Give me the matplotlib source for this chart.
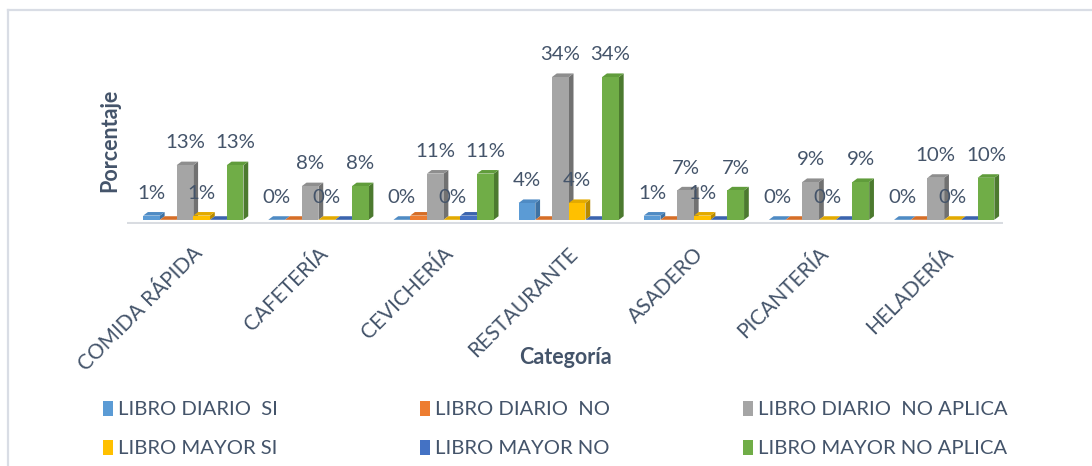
import matplotlib
matplotlib.use('Agg')
import matplotlib.pyplot as plt
from matplotlib.patches import Polygon, Rectangle, Patch
from matplotlib.lines import Line2D
import matplotlib.transforms as mtransforms

# ---------------- data ----------------
categories = ['COMIDA RÁPIDA', 'CAFETERÍA', 'CEVICHERÍA', 'RESTAURANTE',
              'ASADERO', 'PICANTERÍA', 'HELADERÍA']
series_names = ['LIBRO DIARIO  SI', 'LIBRO DIARIO  NO', 'LIBRO DIARIO  NO APLICA',
                'LIBRO MAYOR SI', 'LIBRO MAYOR NO', 'LIBRO MAYOR NO APLICA']
diario_si = [1, 0, 0, 4, 1, 0, 0]
diario_no = [0, 0, 1, 0, 0, 0, 0]
diario_na = [13, 8, 11, 34, 7, 9, 10]
mayor_si = [1, 0, 0, 4, 1, 0, 0]
mayor_no = [0, 0, 1, 0, 0, 0, 0]
mayor_na = [13, 8, 11, 34, 7, 9, 10]
series_values = [diario_si, diario_no, diario_na, mayor_si, mayor_no, mayor_na]
series_labeled = [True, False, True, True, False, True]

# ---------------- style ----------------
front_cols = ['#5B9BD5', '#ED7D31', '#A5A5A5', '#FFC000', '#4472C4', '#70AD47']
side_cols = ['#3F72A3', '#A9561F', '#717171', '#B88A00', '#2E4F8C', '#4C7A2F']
top_cols = ['#4F8BC4', '#D66E27', '#8E8E8E', '#E3AA00', '#3B64AE', '#609C3B']
text_col = '#44546A'
FONT = 'Lato'

W, H = 1092, 466
fig = plt.figure(figsize=(W / 100, H / 100), dpi=100)

# axes placement in pixels
px_left, px_right = 127, 1003
px_bottom, px_top = 224, 30
ax = fig.add_axes([px_left / W, (H - px_bottom) / H,
                   (px_right - px_left) / W, (px_bottom - px_top) / H])
ymin = -1.0
ppp = 4.2  # pixels per percent
ymax = ymin + (px_bottom - px_top) / ppp
ax.set_xlim(-0.5, len(categories) - 0.5)
ax.set_ylim(ymin, ymax)

bw = 0.1336
dx = 0.038
dy = 0.85
shift = 0.03
nser = len(series_values)

z = 2
for ci in range(len(categories)):
    for si in range(nser):
        v = series_values[si][ci]
        x0 = ci + (si - nser / 2) * bw + shift
        # front face
        if v > 0:
            ax.add_patch(Rectangle((x0, 0), bw, v, facecolor=front_cols[si],
                                   edgecolor='none', zorder=z + 0.2))
        # side face
        ax.add_patch(Polygon([(x0 + bw, 0), (x0 + bw + dx, dy), (x0 + bw + dx, v + dy), (x0 + bw, v)],
                             closed=True, facecolor=side_cols[si], edgecolor='none', zorder=z))
        # top face
        ax.add_patch(Polygon([(x0, v), (x0 + bw, v), (x0 + bw + dx, v + dy), (x0 + dx, v + dy)],
                             closed=True, facecolor=top_cols[si], edgecolor='none', zorder=z + 0.1))
        z += 1
        if series_labeled[si]:
            ax.annotate(f'{v}%', (x0 + bw / 2, v + dy), xytext=(0, 9.5),
                        textcoords='offset points', ha='center', va='baseline',
                        fontsize=14.7, color=text_col, family=FONT, zorder=500)

# floor line
ax.axhline(-0.75, color='#D9DCE1', lw=2.2, zorder=1)

for s in ax.spines.values():
    s.set_visible(False)
ax.set_yticks([])
ax.set_xticks(range(len(categories)))
ax.set_xticklabels(categories, rotation=45, ha='right', va='top',
                   rotation_mode='anchor', fontsize=15, color=text_col, family=FONT)
ax.tick_params(axis='x', length=0, pad=14)
offset = mtransforms.ScaledTranslation(3 / 100, 0, fig.dpi_scale_trans)
for lbl in ax.get_xticklabels():
    lbl.set_transform(lbl.get_transform() + offset)

fig.text(565 / W, 1 - 357 / H, 'Categoría', ha='center', va='center',
         fontsize=15.5, fontweight='bold', color=text_col, family=FONT)
fig.text(110 / W, 1 - 140 / H, 'Porcentaje', ha='center', va='center', rotation=90,
         fontsize=15.5, fontweight='bold', color=text_col, family=FONT)

# legend: three columns, two rows
col_x = [103, 420, 743]
for c in range(3):
    handles = [Patch(facecolor=front_cols[c], edgecolor='none'),
               Patch(facecolor=front_cols[c + 3], edgecolor='none')]
    labels = [series_names[c], series_names[c + 3]]
    leg = fig.legend(handles, labels, loc='center left',
                     bbox_to_anchor=(col_x[c] / W, 1 - 429 / H),
                     frameon=False, borderpad=0, borderaxespad=0,
                     handlelength=0.5, handleheight=0.8, handletextpad=0.25,
                     labelspacing=1.05, prop={'family': FONT, 'size': 14.6})
    for t in leg.get_texts():
        t.set_color(text_col)

# outer chart border
bc = '#D9DDE5'
fig.add_artist(Line2D([8 / W, 1.0], [1 - 10 / H, 1 - 10 / H], color=bc, lw=1.6,
                      transform=fig.transFigure))
fig.add_artist(Line2D([8 / W, 8 / W], [0, 1 - 10 / H], color=bc, lw=1.6,
                      transform=fig.transFigure))

fig.savefig('out.png', dpi=100)
